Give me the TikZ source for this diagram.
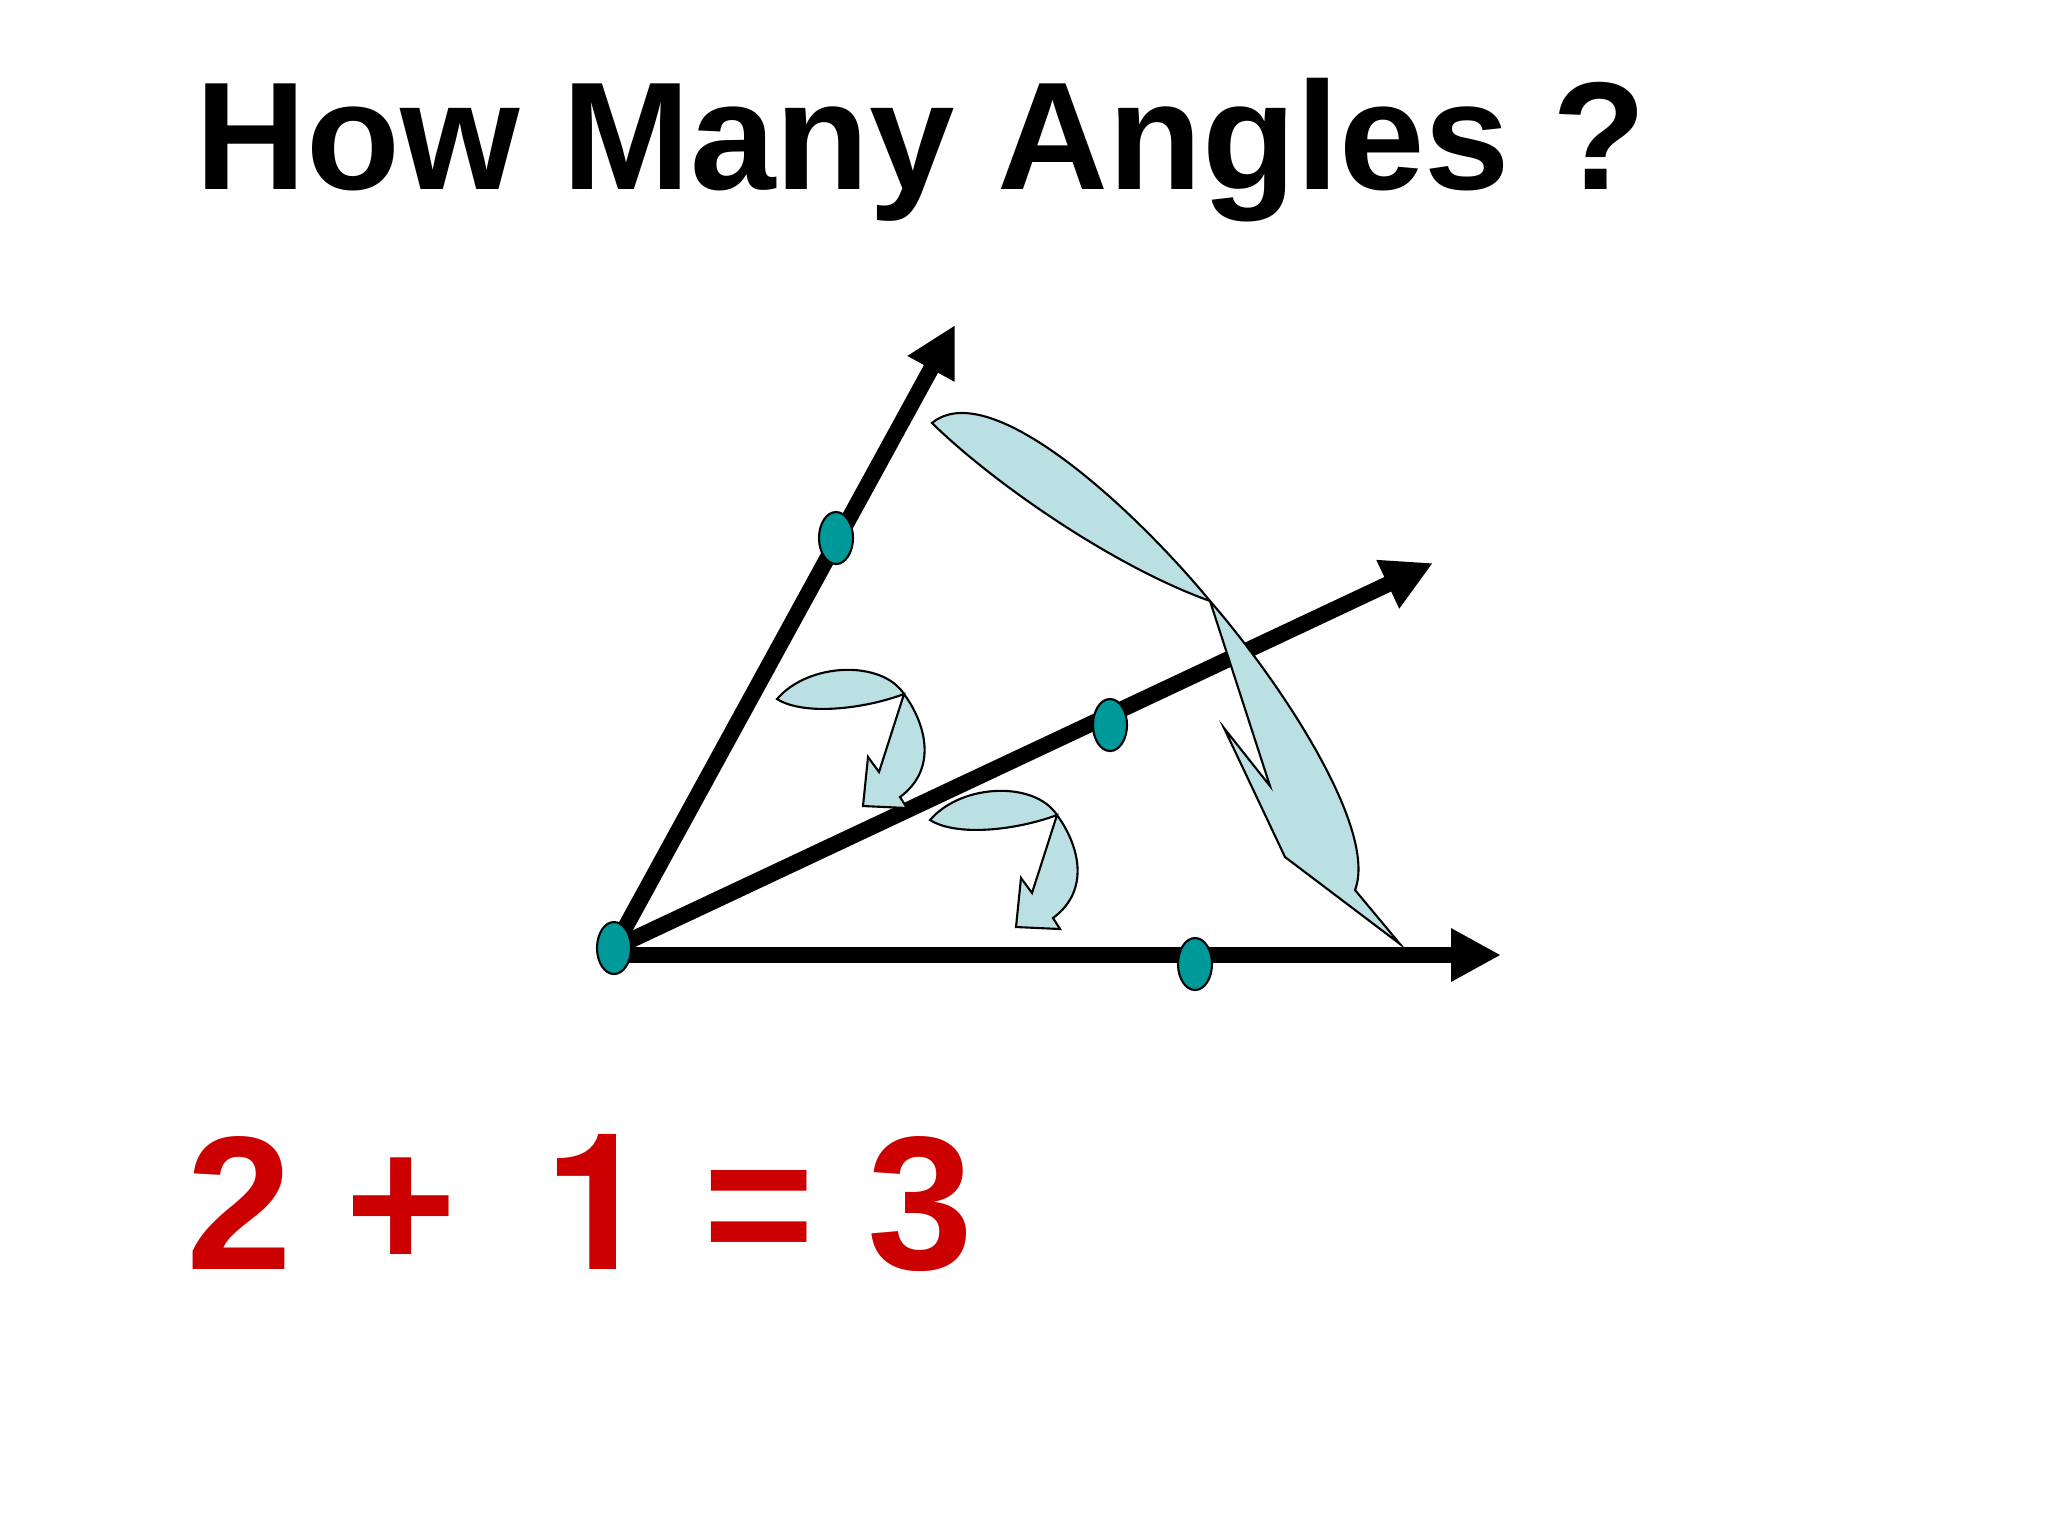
\documentclass[tikz,border=0pt]{standalone}
\usepackage{fontspec}
\setmainfont{Liberation Sans}
\newfontfamily\onefont{TeX Gyre Heros}
\usetikzlibrary{arrows.meta, shapes.geometric, backgrounds}
\definecolor{dotteal}{HTML}{009999}
\definecolor{curlblue}{HTML}{BBE0E3}
\definecolor{sumred}{HTML}{CC0000}
\tikzset{
  ray/.style={-{Triangle[length=5mm, width=5mm]}, line width=1.6mm, black},
  dot/.style={
    ellipse, draw=black, line width=0.6pt, fill=dotteal,
    minimum width=3.4mm, minimum height=5.2mm, inner sep=0pt
  },
  curl/.style={draw=black, line width=0.6pt, fill=curlblue, line join=miter},
  title/.style={font=\fontsize{43.7}{52}\selectfont\bfseries, anchor=base west, inner sep=0pt},
  sumtxt/.style={font=\fontsize{54.2}{64}\selectfont\bfseries, text=sumred, anchor=base west, inner sep=0pt},
}

\begin{document}
\begin{tikzpicture}[x=0.1mm, y=-0.1mm]
\useasboundingbox (0,0) rectangle (2048,1536);

% --- Text ---
\node[title] (question) at (195,189) {How Many Angles ?};
\node[sumtxt] (answer) at (186,1269) {2 +\hspace{3.5mm} {\onefont 1} = 3};

% --- Points ---
\node[dot] (vtx) at (614,948) {};
\node[dot] (updot) at (836,538) {};
\node[dot] (middot) at (1110,725) {};
\node[dot] (botdot) at (1195,964) {};

\coordinate (uptip) at (955,325);
\coordinate (midtip) at (1433,563);
\coordinate (bottip) at (1501,955);

% --- Rays ---
\begin{scope}[on background layer]
  \draw[ray] (vtx.center) -- (uptip);
  \draw[ray] (vtx.center) -- (midtip);
  \draw[ray] (vtx.center |- bottip) -- (bottip);

  % --- Angle arrows ---
  \foreach \jx/\jy in {904/694, 1057/815} {
    \draw[curl, shift={(\jx,\jy)}]
      (-127,5) .. controls (-95,-32) and (-22,-34) .. (0,0)
      .. controls (22,30) and (34,75) .. (-4,103)
      -- (3,114) -- (-41,112) -- (-36,63) -- (-25,78) -- (0,0)
      .. controls (-40,15) and (-100,22) .. (-127,5) -- cycle;
  }
  \draw[curl]
    (932,423) .. controls (990,375) and (1135,510) .. (1210,601)
    .. controls (1282,684) and (1378,830) .. (1355,890)
    -- (1400,944) -- (1285,857) -- (1224,728) -- (1270,786) -- (1210,601)
    .. controls (1110,565) and (990,480) .. (932,423) -- cycle;
\end{scope}

\end{tikzpicture}
\end{document}
